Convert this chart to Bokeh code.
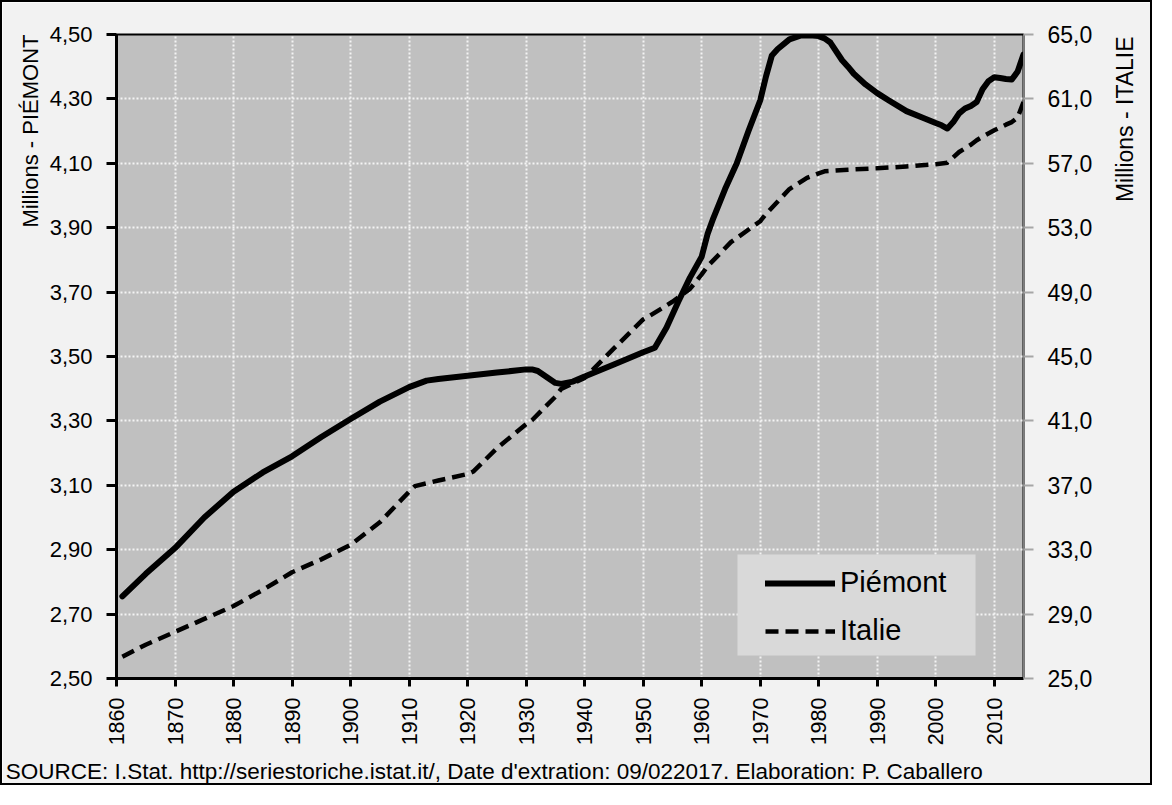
import math
from bokeh.plotting import figure
from bokeh.models import (Range1d, LinearAxis, FixedTicker, Legend,
                          LegendItem, BoxAnnotation, Grid)
from bokeh.embed import file_html
from bokeh.resources import INLINE

# ---------------- data (millions) ----------------
years_piemont = [1861, 1865, 1870, 1875, 1880, 1885, 1890, 1895, 1900, 1905,
                 1910, 1913, 1915, 1920, 1925, 1930, 1931, 1932, 1934, 1935,
                 1936, 1938, 1940, 1945, 1950, 1951, 1952, 1954, 1956, 1958,
                 1960, 1961, 1962, 1964, 1966, 1968, 1970, 1971, 1972, 1973,
                 1975, 1977, 1979, 1980, 1981, 1982, 1984, 1985, 1986, 1988,
                 1990, 1992, 1995, 1998, 2000, 2001, 2002, 2003, 2004, 2005,
                 2006, 2007, 2008, 2009, 2010, 2011, 2012, 2013, 2014, 2015]
pop_piemont = [2.755, 2.825, 2.905, 3.000, 3.080, 3.140, 3.190, 3.250, 3.306, 3.360,
               3.405, 3.425, 3.430, 3.440, 3.450, 3.460, 3.460, 3.455, 3.430, 3.418,
               3.415, 3.422, 3.438, 3.475, 3.513, 3.520, 3.527, 3.590, 3.670, 3.745,
               3.810, 3.880, 3.930, 4.020, 4.100, 4.200, 4.295, 4.370, 4.435, 4.455,
               4.485, 4.497, 4.497, 4.495, 4.488, 4.475, 4.420, 4.400, 4.378, 4.345,
               4.318, 4.295, 4.262, 4.240, 4.225, 4.218, 4.208, 4.228, 4.255, 4.270,
               4.278, 4.290, 4.330, 4.355, 4.367, 4.365, 4.362, 4.360, 4.385, 4.438]

years_italie = [1861, 1865, 1870, 1875, 1880, 1885, 1890, 1895, 1900, 1905,
                1910, 1911, 1915, 1920, 1921, 1925, 1930, 1931, 1935, 1936,
                1940, 1945, 1950, 1951, 1955, 1958, 1960, 1961, 1965, 1970,
                1971, 1975, 1978, 1980, 1981, 1985, 1990, 1995, 2000, 2002,
                2004, 2006, 2007, 2008, 2010, 2012, 2013, 2014, 2015]
pop_italie = [26.35, 27.10, 27.90, 28.70, 29.50, 30.50, 31.60, 32.40, 33.30, 34.70,
              36.60, 36.95, 37.30, 37.70, 37.86, 39.30, 40.80, 41.04, 42.50, 42.99,
              43.67, 45.50, 47.30, 47.50, 48.40, 49.20, 50.10, 50.60, 52.10, 53.40,
              53.85, 55.40, 56.10, 56.38, 56.50, 56.60, 56.69, 56.80, 56.94, 57.04,
              57.70, 58.15, 58.43, 58.65, 59.05, 59.40, 59.56, 59.85, 60.80]

x_ticks = list(range(1860, 2011, 10))
left_ticks = [2.50, 2.70, 2.90, 3.10, 3.30, 3.50, 3.70, 3.90, 4.10, 4.30, 4.50]
left_labels = ["2,50", "2,70", "2,90", "3,10", "3,30", "3,50", "3,70", "3,90",
               "4,10", "4,30", "4,50"]
right_ticks = [25.0, 29.0, 33.0, 37.0, 41.0, 45.0, 49.0, 53.0, 57.0, 61.0, 65.0]
right_labels = ["25,0", "29,0", "33,0", "37,0", "41,0", "45,0", "49,0", "53,0",
                "57,0", "61,0", "65,0"]

left_title = "Millions - PIÉMONT"
right_title = "Millions - ITALIE"
source_text = ("SOURCE: I.Stat.  http://seriestoriche.istat.it/, Date d'extration: "
               "09/022017. Elaboration: P. Caballero")

FONT = "Liberation Sans"

p = figure(width=1152, height=785,
           x_range=Range1d(1860, 2015), y_range=Range1d(2.5, 4.5),
           x_axis_type=None, y_axis_type=None,
           output_backend="svg", toolbar_location=None,
           min_border_left=114, min_border_right=130,
           min_border_top=32, min_border_bottom=109,
           background_fill_color="#c0c0c0", border_fill_color="#f2f2f2",
           outline_line_color="black", outline_line_width=2)
p.styles = {"border": "2px solid black"}
p.extra_y_ranges = {"it": Range1d(25, 65)}


def text_axis(axis, size, standoff):
    axis.major_label_text_font = FONT
    axis.major_label_text_font_size = size
    axis.major_label_text_color = "black"
    axis.major_label_standoff = standoff
    axis.minor_tick_line_color = None
    axis.major_tick_in = 0
    return axis


# main axes
xaxis = text_axis(LinearAxis(ticker=FixedTicker(ticks=x_ticks)), "21.5px", 11)
xaxis.major_label_orientation = math.pi / 2
xaxis.axis_line_width = 3
xaxis.major_tick_line_width = 3
xaxis.major_tick_out = 8
p.add_layout(xaxis, "below")

yaxis = text_axis(LinearAxis(ticker=FixedTicker(ticks=left_ticks),
                             major_label_overrides=dict(zip(left_ticks, left_labels))),
                  "22px", 14)
yaxis.axis_line_width = 3
yaxis.major_tick_line_width = 3
yaxis.major_tick_out = 10
p.add_layout(yaxis, "left")

raxis = text_axis(LinearAxis(y_range_name="it", ticker=FixedTicker(ticks=right_ticks),
                             major_label_overrides=dict(zip(right_ticks, right_labels))),
                  "23px", 14)
raxis.axis_line_color = "#7f7f7f"
raxis.axis_line_width = 1
raxis.major_tick_line_color = "#a6a6a6"
raxis.major_tick_line_width = 2
raxis.major_tick_out = 10
p.add_layout(raxis, "right")

# title "axes" (single label, placed near the top like the original)
lt_pos = 4.5
lt = text_axis(LinearAxis(ticker=FixedTicker(ticks=[lt_pos]),
                          major_label_overrides={lt_pos: left_title}), "22px", 16)
lt.major_label_orientation = math.pi / 2
lt.axis_line_color = None
lt.major_tick_line_color = None
lt.major_tick_out = 0
p.add_layout(lt, "left")

rt_pos = 58.8
rt = text_axis(LinearAxis(y_range_name="it", ticker=FixedTicker(ticks=[rt_pos]),
                          major_label_overrides={rt_pos: right_title}), "23px", 30)
rt.major_label_orientation = math.pi / 2
rt.axis_line_color = None
rt.major_tick_line_color = None
rt.major_tick_out = 0
p.add_layout(rt, "right")

src_pos = 1925.1
st = text_axis(LinearAxis(ticker=FixedTicker(ticks=[src_pos]),
                          major_label_overrides={src_pos: source_text}), "22.5px", 10)
st.axis_line_color = None
st.major_tick_line_color = None
st.major_tick_out = 0
p.add_layout(st, "below")

# grid
for dim, ticks in ((0, x_ticks[1:]), (1, left_ticks[1:-1])):
    g = Grid(dimension=dim, ticker=FixedTicker(ticks=ticks),
             grid_line_color="#f4f4f4", grid_line_width=2, grid_line_dash="2 2")
    p.add_layout(g)

# lines
r_pi = p.line(years_piemont, pop_piemont, line_color="black", line_width=6,
              line_join="round", line_cap="round")
r_it = p.line(years_italie, pop_italie, y_range_name="it", line_color="black",
              line_width=4.5, line_dash="13 7", line_join="round")

# legend box
p.add_layout(BoxAnnotation(left=621, right=859, bottom=23, top=124,
                           left_units="screen", right_units="screen",
                           bottom_units="screen", top_units="screen",
                           fill_color="#d9d9d9", fill_alpha=1, line_color=None))
legend = Legend(items=[LegendItem(label="Piémont", renderers=[r_pi]),
                       LegendItem(label="Italie", renderers=[r_it])],
                location=(649, 31), margin=0, padding=0, spacing=15,
                glyph_width=70, glyph_height=32, label_height=32,
                label_standoff=5, label_text_font=FONT,
                label_text_font_size="29px", label_text_color="black",
                background_fill_alpha=0, border_line_color=None)
p.add_layout(legend)

open("out.html", "w").write(file_html(p, INLINE))
